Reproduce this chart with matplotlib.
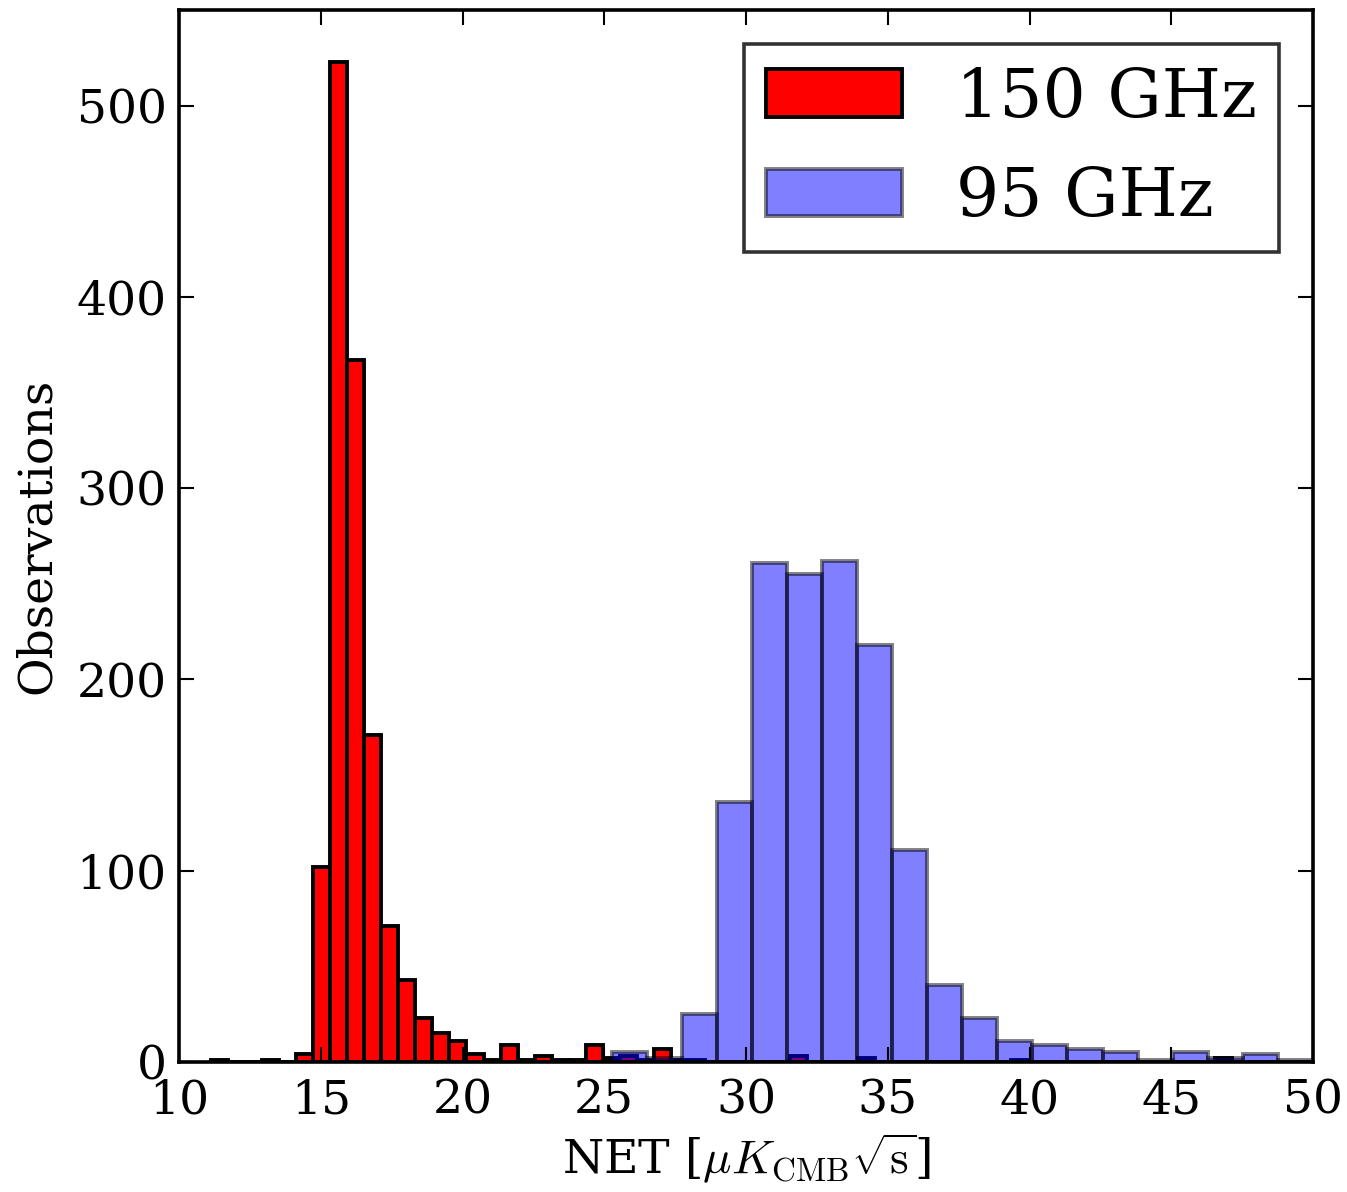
import numpy as np
import matplotlib
matplotlib.use("Agg")
import matplotlib.pyplot as plt

# 150 GHz histogram (bins of 0.6 starting at 11.14)
red_start = 11.14
red_width = 0.6
red_counts = [1, 0, 0, 1, 0, 4, 102, 523, 367, 171, 71, 43, 23, 15, 11, 4,
              1, 9, 1, 3, 1, 1, 9, 2, 3, 1, 7, 1, 1, 0, 0, 0, 0, 0, 3, 0,
              0, 0, 2, 0, 0, 0, 0, 0, 0, 0, 0, 1, 0, 0, 0, 0, 0, 0, 0, 0,
              0, 0, 0, 2, 0, 0, 0, 0, 0]

# 95 GHz histogram
blue_start = 25.27
blue_width = 1.236
blue_counts = [5, 2, 25, 136, 261, 255, 262, 218, 111, 40, 23, 11, 9, 7, 5,
               1, 5, 2, 4, 1]

xticks = [10, 15, 20, 25, 30, 35, 40, 45, 50]
yticks = [0, 100, 200, 300, 400, 500]

plt.rcParams['font.family'] = ['DejaVu Serif']
plt.rcParams['mathtext.fontset'] = 'cm'


def hist_from_counts(ax, start, width, counts, **kw):
    edges = start + width * np.arange(len(counts) + 1)
    return ax.hist(edges[:-1], bins=edges, weights=counts, **kw)


def main():
    fig = plt.figure(figsize=(13.47, 11.92), dpi=100)
    ax = fig.add_axes([0.1329, 0.1091, 0.8419, 0.8825])

    hist_from_counts(ax, red_start, red_width, red_counts,
                     color='red', edgecolor='black', linewidth=2.8,
                     label='150 GHz')
    hist_from_counts(ax, blue_start, blue_width, blue_counts,
                     color='blue', edgecolor='black', linewidth=2.8,
                     alpha=0.5, label='95 GHz')

    ax.set_xlim(10, 50)
    ax.set_ylim(0, 550)
    ax.set_xticks(xticks)
    ax.set_yticks(yticks)
    ax.tick_params(direction='in', length=11, width=1.5, top=True,
                   right=True, labelsize=34)
    ax.tick_params(axis='x', pad=12)
    ax.tick_params(axis='y', pad=9)
    for sp in ax.spines.values():
        sp.set_linewidth(2.6)

    ax.set_xlabel(r'NET [$\mu K_{\rm CMB}\sqrt{\rm s}$]', fontsize=34,
                  labelpad=6)
    ax.set_ylabel('Observations', fontsize=34, labelpad=12)

    leg = ax.legend(loc='upper right', fontsize=49, fancybox=False,
                    borderaxespad=0.5, borderpad=0.32)
    leg.get_frame().set_edgecolor('black')
    leg.get_frame().set_linewidth(2.6)

    fig.savefig('out.png', dpi=100)


if __name__ == "__main__":
    main()
